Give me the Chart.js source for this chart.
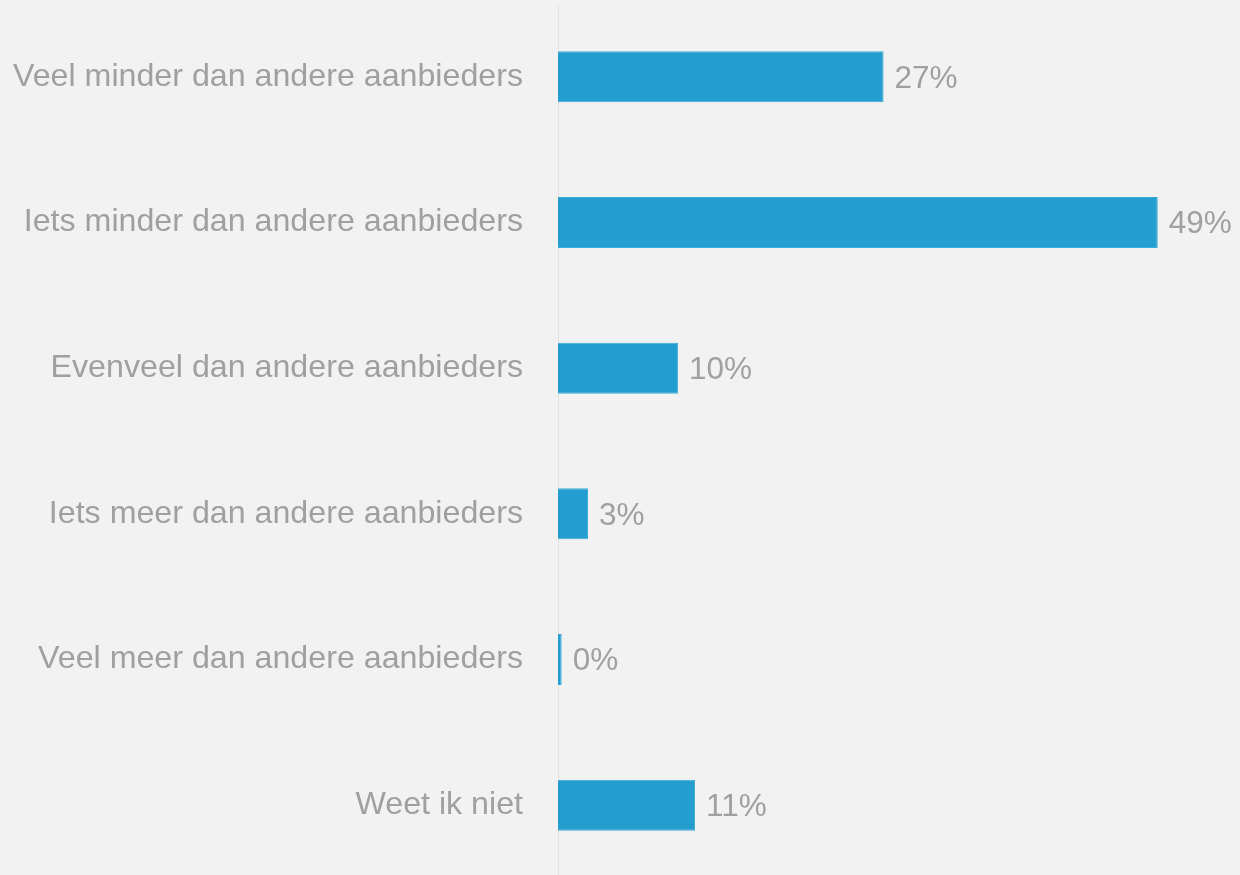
<!DOCTYPE html>
<html>
<head>
<meta charset="utf-8">
<script src="https://cdn.jsdelivr.net/npm/chart.js@4/dist/chart.umd.min.js"></script>
<style>
  html, body { margin: 0; padding: 0; background: #f2f2f2; overflow: hidden; }
  #wrap { position: relative; width: 1240px; height: 878px; }
</style>
</head>
<body>
<div id="wrap"><canvas id="c"></canvas></div>
<script>
const categories = [
  "Veel minder dan andere aanbieders",
  "Iets minder dan andere aanbieders",
  "Evenveel dan andere aanbieders",
  "Iets meer dan andere aanbieders",
  "Veel meer dan andere aanbieders",
  "Weet ik niet"
];
const values = [26.6, 49.0, 9.8, 2.45, 0.3, 11.2];
const valueLabels = ["27%", "49%", "10%", "3%", "0%", "11%"];

const FONT = "'Liberation Sans', Arial, sans-serif";
const TEXT_COLOR = "#a0a0a0";

const valueLabelPlugin = {
  id: 'valueLabels',
  afterDatasetsDraw(chart) {
    const ctx = chart.ctx;
    const meta = chart.getDatasetMeta(0);
    ctx.save();
    ctx.font = "31.5px " + FONT;
    ctx.fillStyle = TEXT_COLOR;
    ctx.textAlign = 'left';
    ctx.textBaseline = 'middle';
    meta.data.forEach((bar, i) => {
      ctx.fillText(valueLabels[i], bar.x + 11, bar.y + 2);
    });
    ctx.restore();
  }
};

new Chart(document.getElementById('c'), {
  type: 'bar',
  data: {
    labels: categories,
    datasets: [{
      data: values,
      backgroundColor: '#239ecf',
      borderColor: '#3aaad8',
      borderWidth: 1,
      borderSkipped: 'left',
      barPercentage: 0.35,
      categoryPercentage: 1.0
    }]
  },
  options: {
    indexAxis: 'y',
    responsive: true,
    maintainAspectRatio: false,
    animation: false,
    layout: { padding: { left: 13, right: 70, top: 4, bottom: 0 } },
    plugins: {
      legend: { display: false },
      tooltip: { enabled: false }
    },
    scales: {
      x: {
        display: false,
        min: 0,
        max: 50
      },
      y: {
        grid: { display: false, drawTicks: false },
        border: { display: true, color: '#e4e4e4', width: 1 },
        ticks: {
          padding: 35,
          color: TEXT_COLOR,
          font: { family: FONT, size: 32.2 }
        },
        afterFit(scale) {
          scale.width = 545;
          scale.paddingTop = 0;
          scale.paddingBottom = 0;
        }
      }
    }
  },
  plugins: [valueLabelPlugin]
});
</script>
</body>
</html>
